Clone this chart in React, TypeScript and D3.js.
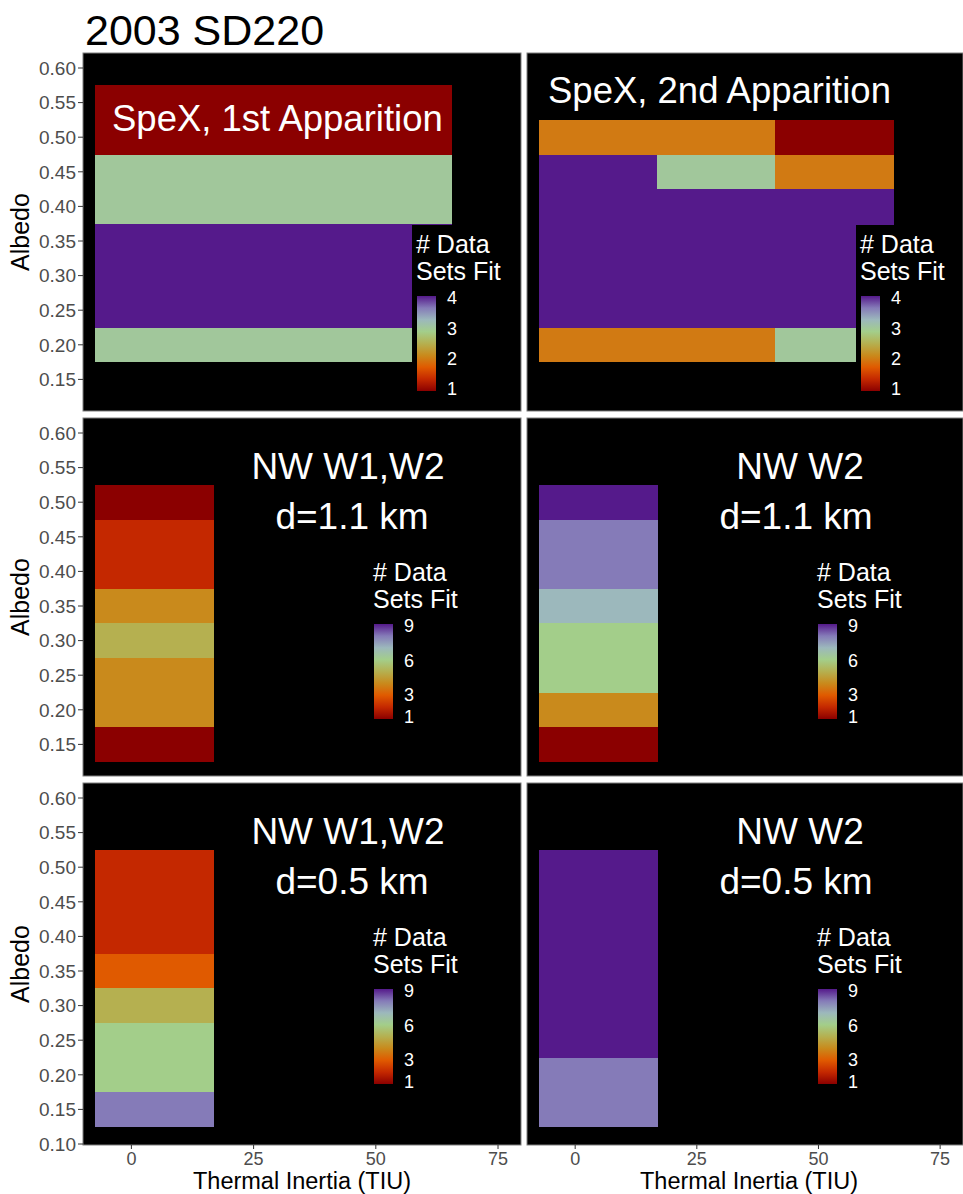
import React from "react";
import * as d3 from "d3";

// ---- data ----
const title = "2003 SD220";
const columnCenters = [4.75, 29, 53.25]; // thermal inertia (TIU)
const tileWidth = 24.5;
const tileHeight = 0.05;
const ramp = ["#8B0000", "#C42800", "#E05A00", "#C98A1C", "#B5B050", "#A3CE8A", "#9CB8BC", "#857BB8", "#551A8B"];

const albedoSpex1 = [0.55, 0.5, 0.45, 0.4, 0.35, 0.3, 0.25, 0.2];
const fitsSpex1 = [[1, 1, 1], [1, 1, 1], [3, 3, 3], [3, 3, 3], [4, 4, 4], [4, 4, 4], [4, 4, 4], [3, 3, 3]];
const albedoSpex2 = [0.5, 0.45, 0.4, 0.35, 0.3, 0.25, 0.2];
const fitsSpex2 = [[2, 2, 1], [4, 3, 2], [4, 4, 4], [4, 4, 4], [4, 4, 4], [4, 4, 4], [2, 2, 3]];
const albedoNW = [0.5, 0.45, 0.4, 0.35, 0.3, 0.25, 0.2, 0.15];
const fitsW1W2_11 = [[1], [2], [2], [4], [5], [4], [4], [1]];
const fitsW2_11 = [[9], [8], [8], [7], [6], [6], [4], [1]];
const fitsW1W2_05 = [[2], [2], [2], [3], [5], [6], [6], [8]];
const fitsW2_05 = [[9], [9], [9], [9], [9], [9], [8], [8]];

const ticksSpex = [1, 2, 3, 4];
const ticksNW = [1, 3, 6, 9];
const yTicks = [0.1, 0.15, 0.2, 0.25, 0.3, 0.35, 0.4, 0.45, 0.5, 0.55, 0.6];
const xTicks = [0, 25, 50, 75];

type Panel = {
  row: number; col: number; albedo: number[]; fits: number[][]; max: number; legendTicks: number[];
  labels: { text: string; x: number; y: number; anchor: string }[];
};

const panels: Panel[] = [
  { row: 0, col: 0, albedo: albedoSpex1, fits: fitsSpex1, max: 4, legendTicks: ticksSpex,
    labels: [{ text: "SpeX, 1st Apparition", x: 29, y: 78, anchor: "start" }] },
  { row: 0, col: 1, albedo: albedoSpex2, fits: fitsSpex2, max: 4, legendTicks: ticksSpex,
    labels: [{ text: "SpeX, 2nd Apparition", x: 21, y: 50, anchor: "start" }] },
  { row: 1, col: 0, albedo: albedoNW, fits: fitsW1W2_11, max: 9, legendTicks: ticksNW,
    labels: [{ text: "NW W1,W2", x: 265, y: 61, anchor: "middle" }, { text: "d=1.1 km", x: 269, y: 111, anchor: "middle" }] },
  { row: 1, col: 1, albedo: albedoNW, fits: fitsW2_11, max: 9, legendTicks: ticksNW,
    labels: [{ text: "NW W2", x: 273, y: 61, anchor: "middle" }, { text: "d=1.1 km", x: 269, y: 111, anchor: "middle" }] },
  { row: 2, col: 0, albedo: albedoNW, fits: fitsW1W2_05, max: 9, legendTicks: ticksNW,
    labels: [{ text: "NW W1,W2", x: 265, y: 61, anchor: "middle" }, { text: "d=0.5 km", x: 269, y: 111, anchor: "middle" }] },
  { row: 2, col: 1, albedo: albedoNW, fits: fitsW2_05, max: 9, legendTicks: ticksNW,
    labels: [{ text: "NW W2", x: 273, y: 61, anchor: "middle" }, { text: "d=0.5 km", x: 269, y: 111, anchor: "middle" }] },
];

// ---- layout ----
const W = 963, H = 1194;
const colX = [[83, 521], [527, 963]];
const rowY = [[53, 411], [418, 776], [783, 1145]];
const FONT = "'Liberation Sans', Arial, Helvetica, sans-serif";

const rampScale = d3.scaleLinear<string>()
  .domain(ramp.map((_, i) => i / (ramp.length - 1)))
  .range(ramp)
  .interpolate(d3.interpolateRgb);

const colorFor = (v: number, max: number) => rampScale((v - 1) / (max - 1));

function PanelView({ p }: { p: Panel }) {
  const [x0, x1] = colX[p.col];
  const [y0, y1] = rowY[p.row];
  const x = d3.scaleLinear().domain([-9.9, 79.7]).range([x0, x1]);
  const y = d3.scaleLinear().domain([0.6, 0.1]).range([y0 + 15, y0 + 15 + 346]);
  const isSpex = p.row === 0;
  const lx = isSpex ? x0 + 333 : x0 + 290;
  const titleY = isSpex ? y0 + 200 : y0 + 163;
  const barTop = titleY + 43;
  const barBot = barTop + 95;
  const lv = d3.scaleLinear().domain([1, p.max]).range([barBot - 2, barTop + 2]);
  const gid = `grad-${p.row}-${p.col}`;
  const clipId = `clip-${p.row}-${p.col}`;
  const cols = p.fits[0].length;
  return (
    <g>
      <defs>
        <linearGradient id={gid} x1="0" y1="1" x2="0" y2="0">
          {ramp.map((c, i) => (
            <stop key={i} offset={`${(i / (ramp.length - 1)) * 100}%`} stopColor={c} />
          ))}
        </linearGradient>
        <clipPath id={clipId}><rect x={x0} y={y0} width={x1 - x0} height={y1 - y0} /></clipPath>
      </defs>
      <rect x={x0} y={y0} width={x1 - x0} height={y1 - y0} fill="#000" stroke="#7f7f7f" strokeWidth={1} />
      <g clipPath={`url(#${clipId})`}>
        {p.albedo.map((a, ri) =>
          p.fits[ri].slice(0, cols).map((v, ci) => {
            const cx = columnCenters[ci];
            const c = colorFor(v, p.max);
            const xa = Math.round(x(cx - tileWidth / 2));
            const xb = Math.round(x(cx + tileWidth / 2));
            const ya = Math.round(y(a + tileHeight / 2));
            const yb = Math.round(y(a - tileHeight / 2));
            return (
              <rect key={`${ri}-${ci}`} x={xa} width={xb - xa} y={ya} height={yb - ya}
                fill={c} shapeRendering="crispEdges" />
            );
          })
        )}
        {p.labels.map((l, i) => (
          <text key={i} x={x0 + l.x} y={y0 + l.y} textAnchor={l.anchor} fill="#fff"
            fontSize={isSpex ? 36.5 : 37} fontFamily={FONT}>{l.text}</text>
        ))}
        {/* legend */}
        <rect x={lx - 4} y={titleY - 28} width={100} height={y1 - (titleY - 28) - 6} fill="#000" />
        <text x={lx} y={titleY} fill="#fff" fontSize={25} fontFamily={FONT}># Data</text>
        <text x={lx} y={titleY + 27} fill="#fff" fontSize={25} fontFamily={FONT}>Sets Fit</text>
        <rect x={lx + 1} y={barTop} width={19} height={barBot - barTop} fill={`url(#${gid})`} />
        {p.legendTicks.map((t) => (
          <text key={t} x={lx + 31} y={lv(t)} dy="0.36em" fill="#fff" fontSize={18} fontFamily={FONT}>{t}</text>
        ))}
      </g>
      {p.col === 0 && (
        <g>
          {yTicks.filter((t) => y(t) >= y0 && y(t) <= y1).map((t) => (
            <g key={t}>
              <line x1={x0 - 5} x2={x0} y1={y(t)} y2={y(t)} stroke="#333" strokeWidth={1} />
              <text x={x0 - 7} y={y(t)} dy="0.36em" textAnchor="end" fill="#4d4d4d" fontSize={19} fontFamily={FONT}>
                {t.toFixed(2)}
              </text>
            </g>
          ))}
          <text transform={`translate(29,${(y0 + y1) / 2}) rotate(-90)`} textAnchor="middle" fill="#000"
            fontSize={25} fontFamily={FONT}>Albedo</text>
        </g>
      )}
      {p.row === 2 && (
        <g>
          {xTicks.map((t) => (
            <g key={t}>
              <line x1={x(t)} x2={x(t)} y1={y1} y2={y1 + 4} stroke="#333" strokeWidth={1} />
              <text x={x(t)} y={y1 + 20} textAnchor="middle" fill="#4d4d4d" fontSize={18} fontFamily={FONT}>{t}</text>
            </g>
          ))}
          <text x={(x0 + x1) / 2 + (p.col === 0 ? 0 : 4)} y={1188.5} textAnchor="middle" fill="#000" fontSize={23.5}
            fontFamily={FONT}>Thermal Inertia (TIU)</text>
        </g>
      )}
    </g>
  );
}

export default function App() {
  return (
    <svg width={W} height={H} viewBox={`0 0 ${W} ${H}`}
      style={{ position: "absolute", left: 0, top: 0, background: "#fff" }}>
      <rect x={0} y={0} width={W} height={H} fill="#fff" />
      <text x={85} y={45} fontSize={43} fontFamily={FONT} fill="#000">{title}</text>
      {panels.map((p) => <PanelView key={`${p.row}-${p.col}`} p={p} />)}
    </svg>
  );
}
